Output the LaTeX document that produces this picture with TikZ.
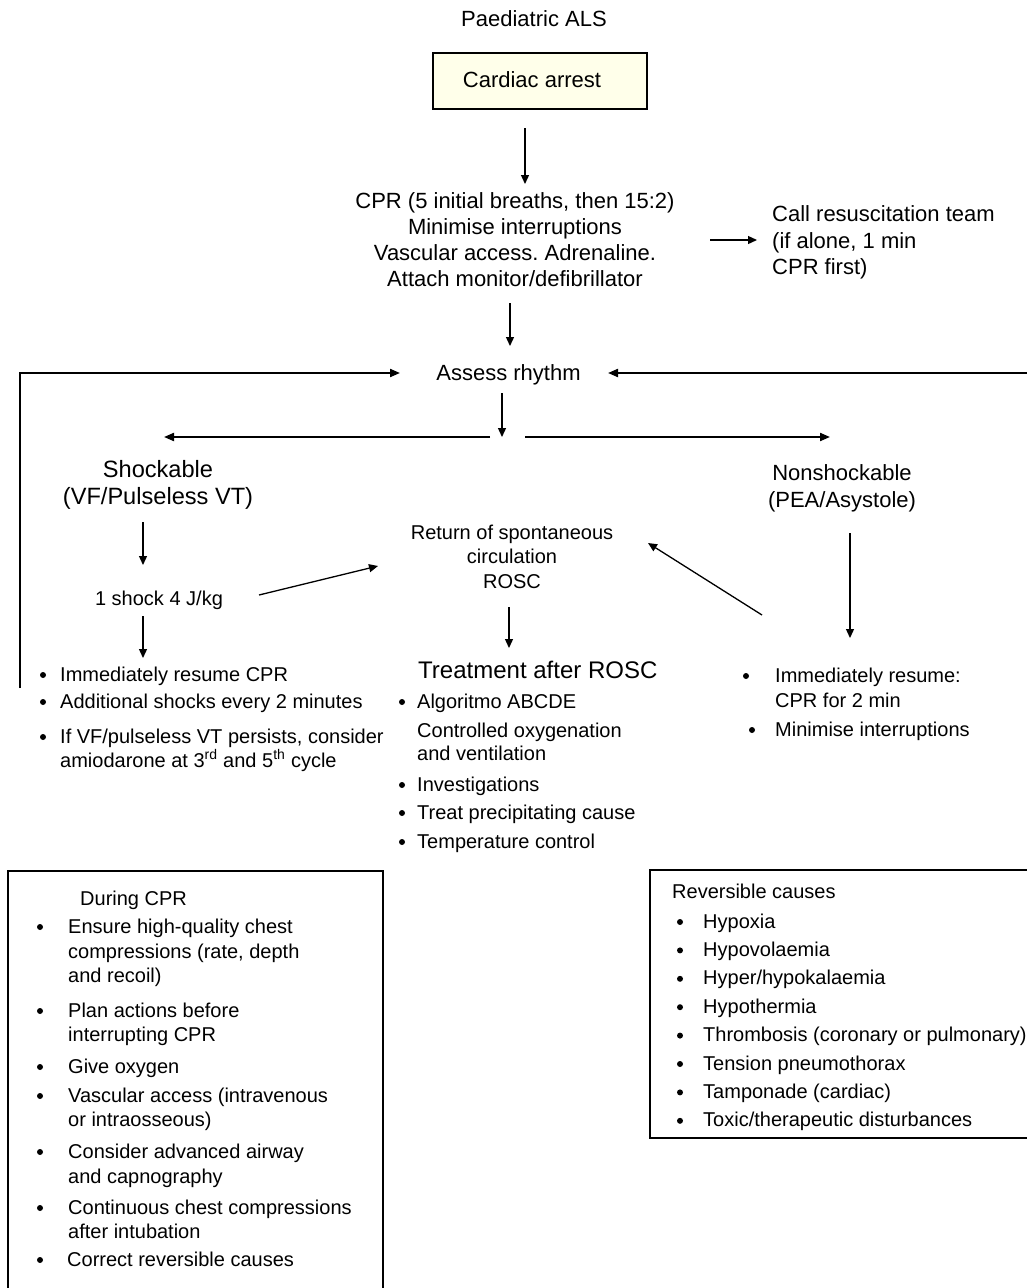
\documentclass[tikz,border=0pt]{standalone}
\usepackage{fontspec}
\setmainfont{Liberation Sans}
\usetikzlibrary{arrows.meta}
\definecolor{boxfill}{RGB}{255,255,234}
\frenchspacing
\tikzset{
  tx/.style={inner sep=0pt, anchor=base},
  txl/.style={inner sep=0pt, anchor=base west},
  fa/.style={font=\fontsize{22}{26}\selectfont},
  fb/.style={font=\fontsize{20}{25}\selectfont},
  fs/.style={font=\fontsize{23.6}{27}\selectfont},
  ft/.style={font=\fontsize{24}{28}\selectfont},
  arr/.style={-{Triangle[length=9pt,width=8pt]}, line width=1.3pt},
  arrw/.style={-{Triangle[length=10pt,width=8pt]}, line width=2pt},
  frame/.style={draw=black, line width=1.3pt}
}
\newcommand{\bulpt}[2]{\fill (#1,#2) circle (3pt);}
\begin{document}
\begin{tikzpicture}[x=1pt,y=-1pt]
\useasboundingbox (0,0) rectangle (1027,1288);
\begin{scope}
\clip (0,0) rectangle (1027,1288);

% title and start box
\node[tx,fa] (title) at (534,26) {Paediatric ALS};
\draw[frame, fill=boxfill] (433,53) rectangle (647,109);
\node[tx,fa] (arrest) at (532,87) {Cardiac arrest};

% CPR block
\node[tx,fa] (cpr1) at (515,208) {CPR (5 initial breaths, then 15:2)};
\node[tx,fa] (cpr2) at (515,234) {Minimise interruptions};
\node[tx,fa] (cpr3) at (515,260) {Vascular access. Adrenaline.};
\node[tx,fa] (cpr4) at (515,286) {Attach monitor/defibrillator};

% call team
\node[txl,fa] (call1) at (772,221) {Call resuscitation team};
\node[txl,fa] (call2) at (772,248) {(if alone, 1 min};
\node[txl,fa] (call3) at (772,274) {CPR first)};

% assess
\node[tx,fa] (assess) at (508.5,380) {Assess rhythm};

% branches
\node[tx,fs] (shock1) at (158,477) {Shockable};
\node[tx,fs] (shock2) at (158,504) {(VF/Pulseless VT)};
\node[tx,fa] (nons1) at (842,480) {Nonshockable};
\node[tx,fa] (nons2) at (842,507) {(PEA/Asystole)};

\node[tx,fb] (oneshock) at (159,605) {1 shock 4 J/kg};

% ROSC
\node[tx,fb] (rosc1) at (512,539) {Return of spontaneous};
\node[tx,fb] (rosc2) at (512,563) {circulation};
\node[tx,fb] (rosc3) at (512,588) {ROSC};

% shockable bullets
\bulpt{43}{675}\node[txl,fb] (sb1) at (60,681) {Immediately resume CPR};
\bulpt{43}{702}\node[txl,fb] (sb2) at (60,708) {Additional shocks every 2 minutes};
\bulpt{43}{737}\node[txl,fb] (sb3) at (60,743) {If VF/pulseless VT persists, consider};
\node[txl,fb] (sb4) at (60,767) {amiodarone at 3\textsuperscript{rd} and 5\textsuperscript{th} cycle};

% treatment after ROSC
\node[txl,ft] (treat) at (418,678) {Treatment after ROSC};
\bulpt{402}{702}\node[txl,fb] (tb1) at (417,708) {Algoritmo ABCDE};
\node[txl,fb] (tb2) at (417,737) {Controlled oxygenation};
\node[txl,fb] (tb3) at (417,760) {and ventilation};
\bulpt{402}{785}\node[txl,fb] (tb4) at (417,791) {Investigations};
\bulpt{402}{813}\node[txl,fb] (tb5) at (417,819) {Treat precipitating cause};
\bulpt{402}{842}\node[txl,fb] (tb6) at (417,848) {Temperature control};

% nonshockable bullets
\bulpt{746}{676}\node[txl,fb] (nb1) at (775,682) {Immediately resume:};
\node[txl,fb] (nb2) at (775,707) {CPR for 2 min};
\bulpt{752}{730}\node[txl,fb] (nb3) at (775,736) {Minimise interruptions};

% During CPR box
\draw[frame] (8,1300) -- (8,871) -- (383,871) -- (383,1300);
\node[txl,fb] (dur) at (80,905) {During CPR};
\bulpt{40}{927}\node[txl,fb] (d1a) at (68,933) {Ensure high-quality chest};
\node[txl,fb] (d1b) at (68,958) {compressions (rate, depth};
\node[txl,fb] (d1c) at (68,982) {and recoil)};
\bulpt{40}{1011}\node[txl,fb] (d2a) at (68,1017) {Plan actions before};
\node[txl,fb] (d2b) at (68,1041) {interrupting CPR};
\bulpt{40}{1067}\node[txl,fb] (d3) at (68,1073) {Give oxygen};
\bulpt{40}{1096}\node[txl,fb] (d4a) at (68,1102) {Vascular access (intravenous};
\node[txl,fb] (d4b) at (68,1126) {or intraosseous)};
\bulpt{40}{1152}\node[txl,fb] (d5a) at (68,1158) {Consider advanced airway};
\node[txl,fb] (d5b) at (68,1183) {and capnography};
\bulpt{40}{1208}\node[txl,fb] (d6a) at (68,1214) {Continuous chest compressions};
\node[txl,fb] (d6b) at (68,1238) {after intubation};
\bulpt{40}{1260}\node[txl,fb] (d7) at (67,1266) {Correct reversible causes};

% Reversible causes box
\draw[frame] (1040,870) -- (650,870) -- (650,1138) -- (1040,1138);
\node[txl,fb] (rev) at (672,898) {Reversible causes};
\bulpt{680}{922}\node[txl,fb] (r1) at (703,928) {Hypoxia};
\bulpt{680}{950.4}\node[txl,fb] (r2) at (703,956.4) {Hypovolaemia};
\bulpt{680}{978.8}\node[txl,fb] (r3) at (703,984.8) {Hyper/hypokalaemia};
\bulpt{680}{1007.2}\node[txl,fb] (r4) at (703,1013.2) {Hypothermia};
\bulpt{680}{1035.6}\node[txl,fb] (r5) at (703,1041.6) {Thrombosis (coronary or pulmonary)};
\bulpt{680}{1064}\node[txl,fb] (r6) at (703,1070) {Tension pneumothorax};
\bulpt{680}{1092.4}\node[txl,fb] (r7) at (703,1098.4) {Tamponade (cardiac)};
\bulpt{680}{1120.8}\node[txl,fb] (r8) at (703,1126.8) {Toxic/therapeutic disturbances};

% connector end points
\coordinate (a1s) at (525,128);  \coordinate (a1e) at (525,184);
\coordinate (a2s) at (710,240);  \coordinate (a2e) at (757,240);
\coordinate (a3s) at (510,303);  \coordinate (a3e) at (510,346);
\coordinate (fl0) at (20,688);   \coordinate (fl1) at (20,373);  \coordinate (fle) at (400,373);
\coordinate (frs) at (1030,373); \coordinate (fre) at (608,373);
\coordinate (a4s) at (502,393);  \coordinate (a4e) at (502,437);
\coordinate (hls) at (490,437);  \coordinate (hle) at (164,437);
\coordinate (hrs) at (525,437);  \coordinate (hre) at (830,437);
\coordinate (a5s) at (143,522);  \coordinate (a5e) at (143,565);
\coordinate (a6s) at (259,595);  \coordinate (a6e) at (378,566);
\coordinate (a7s) at (143,616);  \coordinate (a7e) at (143,658);
\coordinate (a8s) at (509,607);  \coordinate (a8e) at (509,648);
\coordinate (a9s) at (762,615);  \coordinate (a9e) at (648,543);
\coordinate (a10s) at (850,533); \coordinate (a10e) at (850,638);

\draw[arr] (a1s) -- (a1e);
\draw[arr] (a2s) -- (a2e);
\draw[arr] (a3s) -- (a3e);
\draw[arrw] (fl0) -- (fl1) -- (fle);
\draw[arrw] (frs) -- (fre);
\draw[arr] (a4s) -- (a4e);
\draw[arrw] (hls) -- (hle);
\draw[arrw] (hrs) -- (hre);
\draw[arr] (a5s) -- (a5e);
\draw[arr] (a6s) -- (a6e);
\draw[arr] (a7s) -- (a7e);
\draw[arr] (a8s) -- (a8e);
\draw[arr] (a9s) -- (a9e);
\draw[arr] (a10s) -- (a10e);
\end{scope}
\end{tikzpicture}
\end{document}
